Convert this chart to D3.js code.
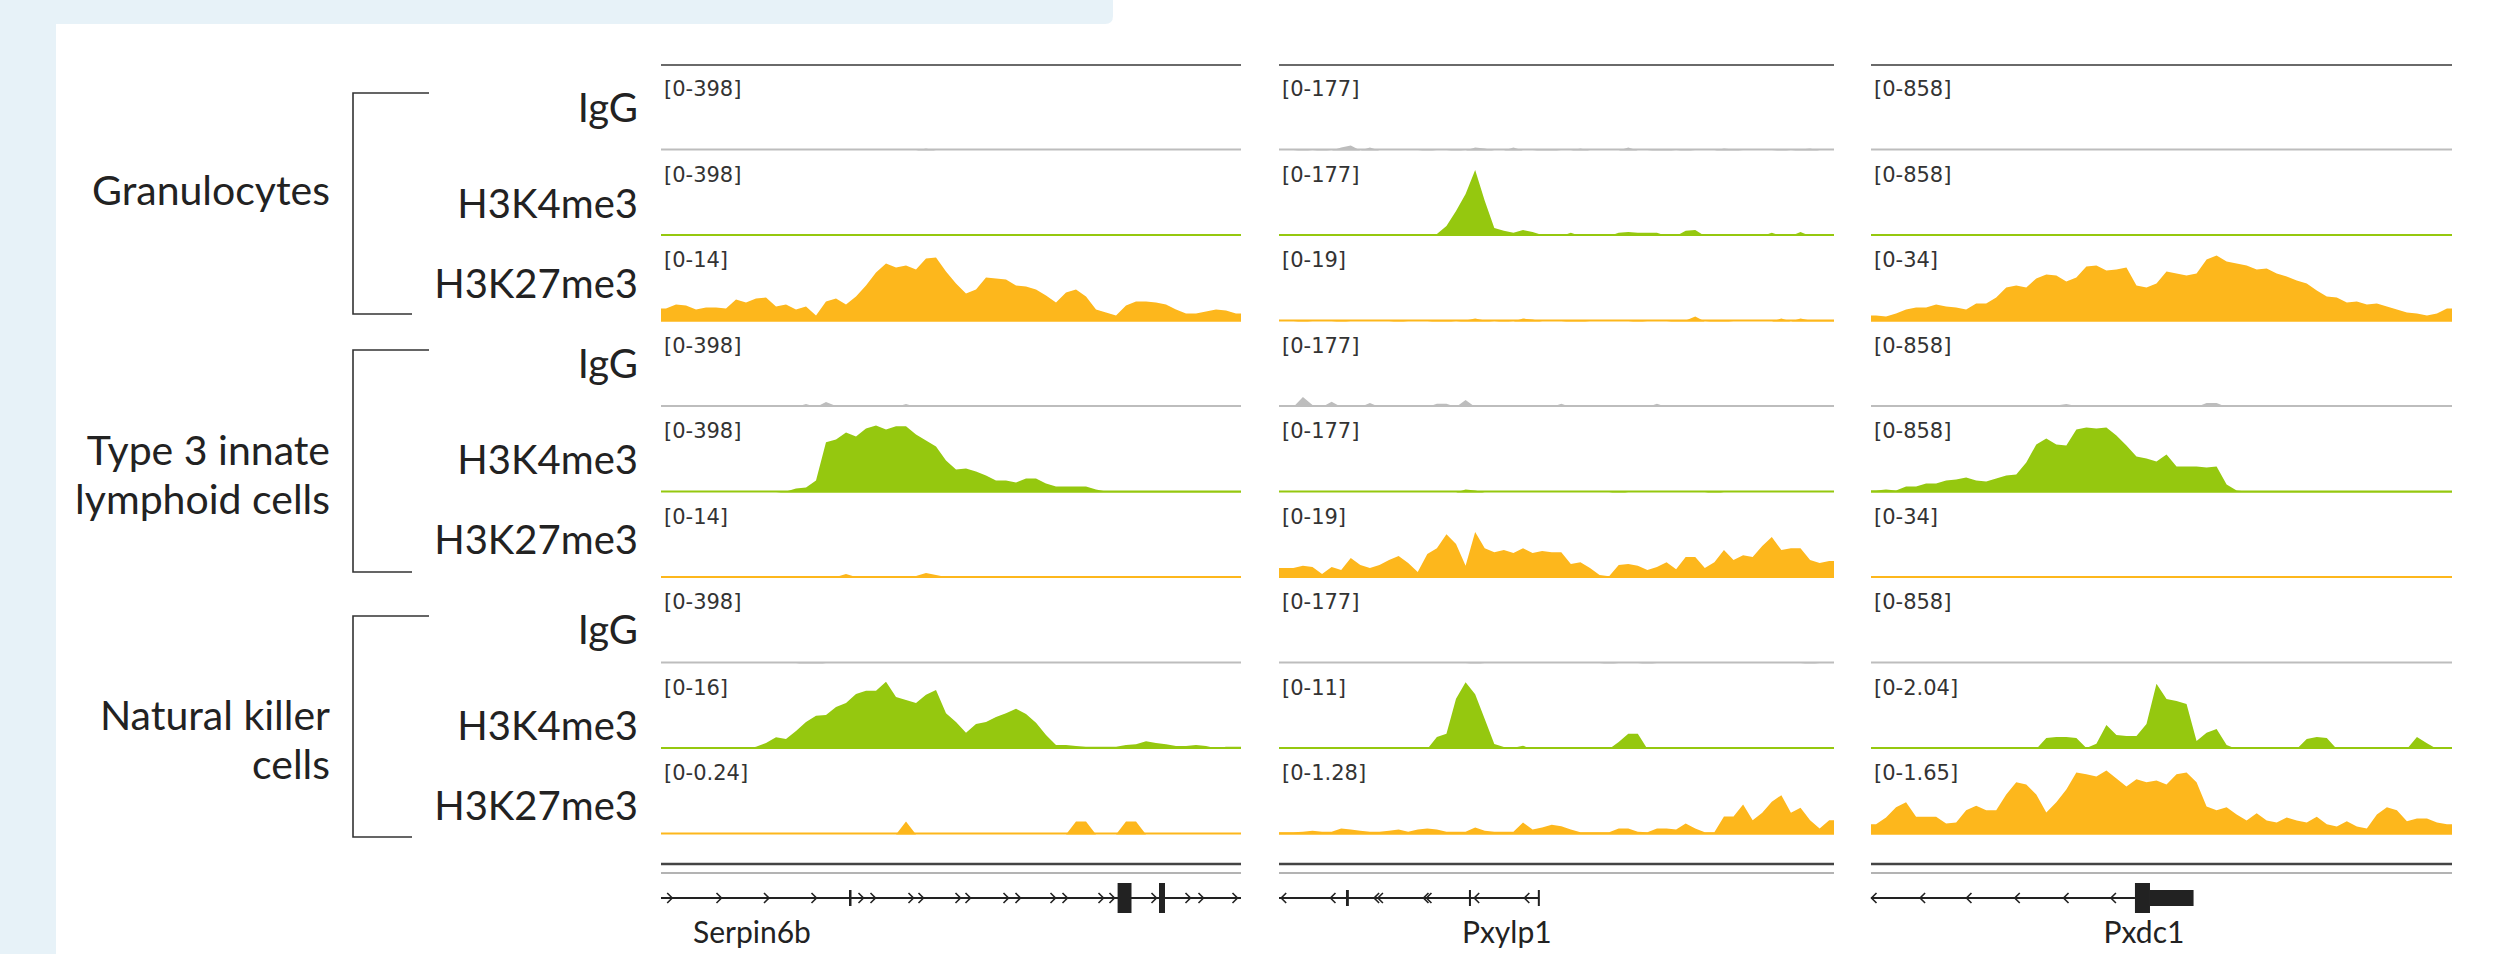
<!DOCTYPE html>
<html>
<head>
<meta charset="utf-8">
<script src="https://cdn.jsdelivr.net/npm/d3@7"></script>
<style>
body { margin: 0; background: #fff; }
svg { display: block; }
</style>
</head>
<body>
<svg id="chart"></svg>
<script>
// ---------------------------- data -----------------------------------

const loci = ['Serpin6b', 'Pxylp1', 'Pxdc1'];
const cellTypes = [['Granulocytes'], ['Type 3 innate', 'lymphoid cells'], ['Natural killer', 'cells']];
const marks = ['IgG', 'H3K4me3', 'H3K27me3'];

// data range of every track, per locus (top to bottom)
const dataRanges = [
  [398, 398, 14, 398, 398, 14, 398, 16, 0.24],
  [177, 177, 19, 177, 177, 19, 177, 11, 1.28],
  [858, 858, 34, 858, 858, 34, 858, 2.04, 1.65]
];

const nBins = 58;

// Serpin6b locus, 58 bins per track
const serpin6bSignal = [
  [0,0,0,0,0,0,0,0,0,0, 0,0,0,0,0,0,0,0,0,0, 0,0,0,0,0,0,11,0,0,0, 0,0,0,0,0,0,0,0,0,0, 0,0,0,0,0,0,0,0,0,0, 0,0,0,0,0,0,0,0],
  [0,0,0,0,0,0,0,0,0,0, 0,0,0,0,0,0,0,0,0,0, 0,0,0,0,0,0,0,0,0,0, 0,0,0,0,0,0,0,0,0,0, 0,0,0,0,0,0,0,0,0,0, 0,0,0,0,0,0,0,0],
  [2.6,3.4,3.2,2.4,2.8,2.8,2.6,4.4,3.8,4.6, 4.8,3.0,3.4,2.4,3.0,1.2,4.0,4.6,3.4,5.0, 7.2,9.8,11.6,10.8,11.2,10.4,12.6,12.8,10.0,7.6, 5.6,6.4,8.8,8.6,8.4,7.2,7.0,6.4,5.2,3.8, 5.8,6.4,5.0,2.4,1.8,1.2,3.2,4.0,4.0,3.8, 3.4,2.4,1.6,1.6,2.0,2.4,2.2,1.6],
  [0,0,0,0,0,0,0,0,0,0, 0,6,6,0,17,0,28,6,0,0, 6,0,0,0,17,0,0,6,0,0, 6,0,0,0,0,0,0,0,0,0, 0,0,0,0,0,0,0,0,0,0, 0,0,0,0,0,0,0,0],
  [0,0,0,0,0,0,0,0,0,0, 0,0,6,23,28,68,285,302,341,319, 364,381,358,376,376,330,296,262,182,131, 137,119,97,68,68,57,80,80,51,34, 34,34,34,17,6,6,6,6,6,6, 6,6,6,6,6,6,6,6],
  [.2,.2,0,0,0,0,0,0,0,0, 0,0,0,0,0,0,.2,.2,.8,.2, .2,.2,0,0,0,.4,1.0,.6,.2,.2, 0,.2,0,0,0,0,.2,0,0,0, 0,0,0,0,0,0,.2,.2,0,0, 0,0,0,0,0,0,0,0],
  [0,0,0,0,0,0,0,0,0,0, 0,0,0,0,8,8,0,0,0,0, 0,0,0,0,0,0,0,0,0,0, 0,0,0,0,0,0,0,0,0,0, 0,0,0,0,0,0,0,0,0,0, 0,0,0,0,0,0,0,0],
  [0,0,0,0,0,0,0,0,0,.5, 1.4,2.7,2.3,4.1,6.2,7.6,7.8,9.6,10.5,12.6, 13.3,13.3,15.4,11.9,11.2,10.5,12.4,13.5,8.2,6.2, 3.7,5.7,6.2,7.3,8.2,9.2,8.0,6.0,3.2,.9, .9,.7,.5,.5,.5,.5,.9,1.1,1.8,1.4, 1.1,.7,.7,.9,.7,.2,.5,.5],
  [0,0,0,0,0,0,0,0,0,0, 0,0,0,0,0,0,0,0,0,0, 0,0,0,0,.045,0,0,0,0,0, 0,0,0,0,0,0,0,0,0,0, 0,.045,.045,0,0,0,.045,.045,0,0, 0,0,0,0,0,0,0,0]
];

// Pxylp1 locus
const pxylp1Signal = [
  [0,0,2.5,0,2.5,0,7.6,12.6,0,7.6, 0,0,0,0,0,2.5,0,0,2.5,0, 7.6,5,0,0,7.6,0,0,2.5,2.5,0, 0,5,0,0,0,0,7.6,0,0,2.5, 2.5,0,2.5,0,0,0,5,2.5,0,0, 0,0,2.5,0,2.5,5,0,0],
  [0,0,0,0,0,0,0,0,0,0, 0,0,0,0,0,0,5,25,63,106, 167,89,20,13,8,15,10,2.5,0,0, 8,0,0,0,0,8,10,8,8,8, 0,0,13,15,0,0,0,0,0,0, 0,8,0,0,10,0,0,0],
  [0,0,.27,0,0,0,.27,0,0,0, 0,0,.27,0,0,0,.27,.27,0,.27, .8,.27,0,.27,0,.8,.54,0,0,0, .27,.27,0,0,0,0,0,.27,0,0, 0,.27,.27,1.36,0,.27,.27,0,0,0, 0,0,.8,0,.8,.27,.27,.27],
  [0,0,25,5,0,13,0,0,0,10, 0,0,0,0,0,0,8,8,0,18, 0,0,0,0,0,0,0,0,0,8, 0,0,0,0,0,0,0,0,0,8, 0,0,0,0,0,0,0,0,0,0, 0,0,0,0,0,0,0,0],
  [0,0,0,0,0,0,0,0,0,0, 0,0,0,0,0,0,0,0,0,7.6, 5,0,0,0,0,0,0,0,0,0, 0,0,0,0,0,3.8,0,0,0,0, 0,0,0,0,0,3.8,0,0,0,0, 0,0,0,0,0,0,0,0],
  [2.7,2.7,3.3,3.0,1.1,3.0,2.2,5.4,3.5,2.7, 3.5,4.9,6.0,4.1,1.6,6.5,8.1,11.9,9.2,3.3, 12.5,8.1,7.0,7.6,6.8,8.1,6.8,7.3,7.0,7.0, 3.8,4.3,2.7,0.8,0.5,3.5,3.8,3.3,2.2,3.0, 4.3,2.4,5.7,5.7,2.7,4.3,7.6,4.9,6.2,5.7, 8.7,11.1,7.6,8.1,8.1,4.9,4.1,4.6],
  [0,0,0,0,0,0,0,0,0,0, 0,0,0,0,0,0,0,0,0,0, 2.5,0,0,0,0,0,0,0,0,0, 0,0,0,0,2.5,0,0,0,2.5,0, 0,0,0,0,0,0,0,0,0,0, 0,0,0,0,0,2.5,0,0],
  [0,0,0,0,0,0,0,0,0,.2, 0,.3,.3,.2,0,0,1.9,2.4,7.9,10.5, 8.6,4.7,.8,.3,.2,.5,0,0,0,0, 0,.3,0,0,0,1.1,2.4,2.4,0,0, .3,0,0,0,0,.3,0,0,0,0, 0,0,.3,0,0,.3,.2,.3],
  [.04,.04,.05,.07,.05,.05,.11,.09,.07,.05, .05,.07,.09,.05,.09,.11,.09,.05,.05,.05, .13,.07,.05,.05,.05,.22,.09,.13,.18,.15, .09,.04,.04,.04,.04,.11,.11,.05,.04,.11, .11,.09,.2,.11,.04,.04,.33,.33,.55,.26, .4,.6,.72,.4,.49,.26,.11,.26]
];

// Pxdc1 locus
const pxdc1Signal = [
  [0,0,0,0,0,0,0,0,0,0, 0,0,0,0,0,0,0,0,0,0, 0,0,0,0,0,0,0,0,0,0, 0,0,0,0,0,0,0,0,0,0, 0,0,0,0,0,0,0,0,0,0, 0,0,0,0,0,0,0,0],
  [0,0,0,0,0,0,0,0,0,0, 0,0,0,0,0,0,0,0,0,0, 0,0,0,0,0,0,0,0,0,0, 0,0,0,0,0,0,0,0,0,0, 0,0,0,0,0,0,0,0,0,0, 0,0,0,0,0,0,0,0],
  [2.9,2.4,3.9,5.8,6.8,6.8,8.3,7.3,6.8,5.8, 8.7,8.7,11.7,16.5,17.5,16.5,20.9,22.8,22.4,19.4, 21.4,26.7,27.2,24.8,25.3,26.2,17.5,16.5,18.5,24.3, 23.3,22.4,23.3,30.1,32.1,29.2,28.2,27.2,25.3,25.8, 23.3,21.9,19.9,18.5,15.1,12.2,11.7,9.2,9.7,8.3, 8.7,7.3,5.8,4.4,3.9,2.9,3.9,6.3],
  [0,0,0,0,18,12,0,0,0,0, 0,0,0,0,0,18,18,18,18,37, 12,12,0,0,0,0,0,0,12,12, 0,0,0,49,49,0,0,0,0,0, 0,0,0,0,0,0,0,0,0,0, 12,0,0,0,0,0,0,0],
  [25,37,25,74,74,110,110,147,159,184, 147,135,172,208,221,368,588,662,588,576, 772,797,785,797,699,576,441,417,380,466, 319,319,319,307,319,98,25,12,12,12, 12,12,12,12,12,12,12,12,12,12, 12,12,12,12,12,12,12,12],
  [0,0,.5,0,0,0,0,0,.5,0, 0,0,0,0,0,1,1,0,0,0, .5,0,0,0,0,0,0,0,0,0, 0,0,0,0,0,0,0,0,0,0, 0,0,0,0,0,0,0,0,0,0, 0,0,0,0,0,0,0,0],
  [0,0,0,0,0,0,0,0,0,0, 0,0,0,0,0,0,0,0,0,0, 0,0,0,0,0,0,0,0,0,0, 0,0,0,0,0,0,0,0,0,0, 0,0,0,0,0,0,0,0,0,0, 0,0,0,0,0,0,0,0],
  [0,0,0,0,0,0,0,0,0,0, 0,0,0,0,0,0,0,.32,.35,.35, .32,.03,.15,.7,.41,.38,.38,.73,1.9,1.46, 1.4,1.31,.23,.47,.58,.12,0,0,0,0, 0,0,0,.29,.35,.32,0,0,0,0, 0,0,0,0,.35,.17,0,0],
  [.24,.4,.64,.76,.42,.42,.42,.26,.28,.57, .68,.57,.57,.94,1.23,1.18,.94,.52,.76,1.06, 1.46,1.42,1.37,1.51,1.32,1.13,1.3,1.23,1.27,1.18, 1.42,1.46,1.23,.66,.57,.64,.47,.33,.5,.33, .28,.4,.33,.28,.42,.24,.19,.31,.19,.14, .47,.64,.57,.31,.38,.38,.28,.24]
];

const signals = [serpin6bSignal, pxylp1Signal, pxdc1Signal];

// gene models, in the same bin units as the signal
const geneStrand = [1, -1, -1];
const geneSpan = [[0, 58], [0, 27.15], [0, 26.35]];
const geneArrows = [
  [0.87, 5.8, 10.55, 15.3, 20, 21.2, 25, 26, 29.7, 30.7, 34.5, 35.7, 39.2, 40.4, 44, 45.1, 49.3, 52.7, 54, 57.4],
  [0.49, 5.64, 10.2, 10.6, 15.36, 15.67, 20.66, 25.9],
  [0.3, 5.15, 9.78, 14.6, 19.47, 24.2]
];
const geneExons = [
  [[18.8, 19.05, 'utr'], [45.66, 47.05, 'cds'], [49.8, 50.4, 'cds']],
  [[7.0, 7.3, 'utr'], [19.85, 20.0, 'utr'], [27.05, 27.2, 'utr']],
  [[26.35, 27.85, 'cds'], [27.85, 32.2, 'utr']]
];
const geneLabelAt = [3.2, 23.8, 27.25];
const geneLabelAnchor = ['start', 'middle', 'middle'];

// ---------------------------- layout -----------------------------------

const width = 2493;
const height = 954;
const colLeft = [661, 1279, 1871];
const colRight = [1241, 1834, 2452];
const trackTop0 = 65;
const trackStep = 85.5;
const plotH = 70;
const markColor = { 'IgG': '#bdbdbd', 'H3K4me3': '#95c80f', 'H3K27me3': '#fdb71c' };
const labelFont = 'Lato, "Noto Sans", sans-serif';

// per cell type: bracket ends, first name line, first mark label
const bracketTop = [93, 350, 616];
const bracketBottom = [314, 572, 837];
const groupNameY = [205, 465, 730];
const markLabelY = [122, 378, 644];
const markLabelOffset = [0, 96, 176];

const svg = d3.select('#chart')
  .attr('width', width)
  .attr('height', height);

// page background
svg.append('rect').attr('width', width).attr('height', height).attr('fill', '#fff');
svg.append('rect').attr('x', 0).attr('y', 0).attr('width', 56).attr('height', height).attr('fill', '#e7f2f8');
svg.append('path').attr('d', 'M0,0 H1113 V16 Q1113,24 1105,24 H0 Z').attr('fill', '#e7f2f8');

// cell type brackets + names
cellTypes.forEach(function(lines, g) {
  svg.append('path')
    .attr('d', `M429,${bracketTop[g]} H353 V${bracketBottom[g]} H412`)
    .attr('fill', 'none')
    .attr('stroke', '#333')
    .attr('stroke-width', 1.6);

  const t = svg.append('text')
    .attr('text-anchor', 'end')
    .attr('font-family', labelFont)
    .attr('font-size', 41)
    .attr('fill', '#222');
  lines.forEach(function(line, i) {
    t.append('tspan').attr('x', 330).attr('y', groupNameY[g] + 49 * i).text(line);
  });

  marks.forEach(function(m, j) {
    svg.append('text')
      .attr('x', 638)
      .attr('y', markLabelY[g] + markLabelOffset[j])
      .attr('text-anchor', 'end')
      .attr('font-family', labelFont)
      .attr('font-size', 40)
      .attr('fill', '#222')
      .text(m);
  });
});

// tracks
loci.forEach(function(locus, c) {
  const x = d3.scaleLinear().domain([0, nBins]).range([colLeft[c], colRight[c]]);
  const g = svg.append('g');

  g.append('line')
    .attr('x1', colLeft[c]).attr('x2', colRight[c])
    .attr('y1', trackTop0).attr('y2', trackTop0)
    .attr('stroke', '#6a6a6a').attr('stroke-width', 2);

  signals[c].forEach(function(vals, k) {
    const mark = marks[k % 3];
    const top = trackTop0 + trackStep * k;
    const base = top + trackStep;
    const y = d3.scaleLinear().domain([0, dataRanges[c][k]]).range([base, base - plotH]);

    const pts = [[0, vals[0]]]
      .concat(vals.map((v, i) => [i + 0.5, v]))
      .concat([[vals.length, vals[vals.length - 1]]]);

    const area = d3.area()
      .x(d => x(d[0]))
      .y0(base)
      .y1(d => y(d[1]));

    g.append('path').datum(pts).attr('d', area).attr('fill', markColor[mark]);

    g.append('line')
      .attr('x1', colLeft[c]).attr('x2', colRight[c])
      .attr('y1', base - 1).attr('y2', base - 1)
      .attr('stroke', markColor[mark]).attr('stroke-width', 2.2);

    g.append('text')
      .attr('x', colLeft[c] + 3)
      .attr('y', top + 31)
      .attr('font-family', '"DejaVu Sans", sans-serif')
      .attr('font-size', 21)
      .attr('fill', '#333')
      .text('[0-' + dataRanges[c][k] + ']');
  });

  // gene track
  g.append('line')
    .attr('x1', colLeft[c]).attr('x2', colRight[c])
    .attr('y1', 864).attr('y2', 864)
    .attr('stroke', '#444').attr('stroke-width', 2.5);
  g.append('line')
    .attr('x1', colLeft[c]).attr('x2', colRight[c])
    .attr('y1', 873).attr('y2', 873)
    .attr('stroke', '#b3b3b3').attr('stroke-width', 2);

  const gy = 898;
  g.append('line')
    .attr('x1', x(geneSpan[c][0])).attr('x2', x(geneSpan[c][1]))
    .attr('y1', gy).attr('y2', gy)
    .attr('stroke', '#222').attr('stroke-width', 2);

  const s = geneStrand[c];
  g.selectAll('.arrow' + c)
    .data(geneArrows[c])
    .enter()
    .append('path')
    .attr('d', d => `M${x(d) - 2.5 * s},${gy - 5} L${x(d) + 2.5 * s},${gy} L${x(d) - 2.5 * s},${gy + 5}`)
    .attr('fill', 'none')
    .attr('stroke', '#222')
    .attr('stroke-width', 1.6);

  g.selectAll('.exon' + c)
    .data(geneExons[c])
    .enter()
    .append('rect')
    .attr('x', d => x(d[0]))
    .attr('width', d => Math.max(2, x(d[1]) - x(d[0])))
    .attr('y', d => d[2] === 'cds' ? gy - 15 : gy - 8)
    .attr('height', d => d[2] === 'cds' ? 30 : 16)
    .attr('fill', '#222');

  g.append('text')
    .attr('x', x(geneLabelAt[c]))
    .attr('y', 943)
    .attr('text-anchor', geneLabelAnchor[c])
    .attr('font-family', labelFont)
    .attr('font-size', 30)
    .attr('fill', '#222')
    .text(locus);
});
</script>
</body>
</html>
